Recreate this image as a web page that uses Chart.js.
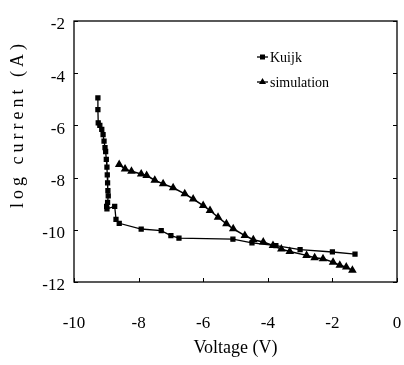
<!DOCTYPE html>
<html>
<head>
<meta charset="utf-8">
<script src="https://cdn.jsdelivr.net/npm/chart.js@4.4.1/dist/chart.umd.min.js"></script>
<style>
  html, body { margin: 0; padding: 0; background: #fff; overflow: hidden; }
  canvas { display: block; }
</style>
</head>
<body>
<canvas id="chart" width="404" height="365"></canvas>
<script>
// data
const kuijkV = [-9.26, -9.26, -9.25, -9.2, -9.14, -9.1, -9.07, -9.04, -9.02, -9.0, -8.98, -8.97, -8.96, -8.95, -8.94, -8.96, -8.99, -8.98, -8.74, -8.7, -8.6, -7.92, -7.3, -7.0, -6.75, -5.08, -4.49, -3.75, -3.0, -2.0, -1.3];
const kuijkI = [-4.95, -5.4, -5.9, -6.0, -6.15, -6.35, -6.6, -6.85, -7.0, -7.3, -7.6, -7.9, -8.2, -8.5, -8.7, -8.95, -9.1, -9.2, -9.1, -9.6, -9.75, -9.97, -10.03, -10.22, -10.32, -10.36, -10.5, -10.61, -10.76, -10.85, -10.93];

const simV = [-8.6, -8.42, -8.22, -7.92, -7.75, -7.5, -7.24, -6.93, -6.57, -6.31, -6.0, -5.79, -5.54, -5.28, -5.07, -4.71, -4.45, -4.14, -3.84, -3.58, -3.32, -2.8, -2.55, -2.29, -1.98, -1.77, -1.57, -1.38];
const simI = [-7.5, -7.67, -7.76, -7.86, -7.92, -8.1, -8.24, -8.39, -8.62, -8.82, -9.07, -9.26, -9.52, -9.77, -9.96, -10.22, -10.38, -10.47, -10.6, -10.74, -10.83, -10.98, -11.07, -11.11, -11.24, -11.36, -11.43, -11.55];

const xTicks = [-10, -8, -6, -4, -2, 0];
const yTicks = [-12, -10, -8, -6, -4, -2];

const toPoints = (xs, ys) => xs.map((x, i) => ({ x: x, y: ys[i] }));

const serif = 'Liberation Serif';

// frame, inward ticks, y title and legend
const extras = {
    id: 'extras',
    afterDraw(chart) {
        const ctx = chart.ctx;
        const a = chart.chartArea;
        const xs = chart.scales.x;
        const ys = chart.scales.y;
        ctx.save();
        ctx.strokeStyle = '#000';
        ctx.lineWidth = 1.3;
        ctx.strokeRect(a.left, a.top, a.right - a.left, a.bottom - a.top);
        ctx.lineWidth = 1;
        xTicks.forEach(v => {
            const px = Math.round(xs.getPixelForValue(v)) + 0.5;
            ctx.beginPath();
            ctx.moveTo(px, a.bottom);
            ctx.lineTo(px, a.bottom - 4);
            ctx.stroke();
        });
        yTicks.forEach(v => {
            const py = Math.round(ys.getPixelForValue(v)) + 0.5;
            ctx.beginPath();
            ctx.moveTo(a.left, py);
            ctx.lineTo(a.left + 4, py);
            ctx.moveTo(a.right, py);
            ctx.lineTo(a.right - 4, py);
            ctx.stroke();
        });

        // y axis title, spaced like the original
        ctx.fillStyle = '#000';
        ctx.font = '18px "' + serif + '"';
        ctx.letterSpacing = '4px';
        ctx.textAlign = 'center';
        ctx.textBaseline = 'middle';
        ctx.translate(18, 124);
        ctx.rotate(-Math.PI / 2);
        ctx.fillText('log current (A)', 0, 0);
        ctx.restore();

        // legend
        ctx.save();
        ctx.font = '14px "' + serif + '"';
        ctx.textAlign = 'left';
        ctx.textBaseline = 'middle';
        ctx.fillStyle = '#000';
        ctx.strokeStyle = '#000';
        chart.data.datasets.forEach((ds, i) => {
            const y = 57 + i * 25;
            ctx.lineWidth = 1.3;
            ctx.beginPath();
            ctx.moveTo(257, y);
            ctx.lineTo(268, y);
            ctx.stroke();
            if (ds.pointStyle === 'triangle') {
                ctx.beginPath();
                ctx.moveTo(262.5, y - 4);
                ctx.lineTo(266, y + 2);
                ctx.lineTo(259, y + 2);
                ctx.closePath();
                ctx.fill();
            } else {
                ctx.fillRect(260, y - 2.5, 5, 5);
            }
            ctx.fillText(ds.label, 270, y + 1);
        });
        ctx.restore();
    }
};

const chart = new Chart(document.getElementById('chart').getContext('2d'), {
    type: 'scatter',
    data: {
        datasets: [{
            label: 'Kuijk',
            data: toPoints(kuijkV, kuijkI),
            showLine: true,
            borderColor: '#000',
            backgroundColor: '#000',
            borderWidth: 1.3,
            pointStyle: 'rect',
            pointRadius: 2.8,
            pointHoverRadius: 2.8
        }, {
            label: 'simulation',
            data: toPoints(simV, simI),
            showLine: true,
            borderColor: '#000',
            backgroundColor: '#000',
            borderWidth: 1.5,
            pointStyle: 'triangle',
            pointRadius: 3.5,
            pointHoverRadius: 3.5
        }]
    },
    options: {
        responsive: false,
        animation: false,
        devicePixelRatio: 1,
        layout: { padding: { left: 0, right: 7, top: 21, bottom: 0 } },
        plugins: {
            legend: { display: false },
            tooltip: { enabled: false }
        },
        scales: {
            x: {
                type: 'linear',
                min: -10,
                max: 0,
                afterBuildTicks: s => { s.ticks = xTicks.map(v => ({ value: v })); },
                afterFit: s => {
                    s.height = 83;
                    s.paddingLeft = 0;
                    s.paddingRight = 0;
                },
                grid: { display: false, drawTicks: false },
                border: { display: false },
                ticks: {
                    padding: 31,
                    color: '#000',
                    font: { family: serif, size: 17 }
                },
                title: {
                    display: true,
                    text: 'Voltage (V)',
                    color: '#000',
                    font: { family: serif, size: 18 },
                    padding: { top: 0, bottom: 6 }
                }
            },
            y: {
                type: 'linear',
                min: -12,
                max: -2,
                afterBuildTicks: s => { s.ticks = yTicks.map(v => ({ value: v })); },
                afterFit: s => {
                    s.width = 74;
                    s.paddingTop = 0;
                    s.paddingBottom = 0;
                },
                grid: { display: false, drawTicks: false },
                border: { display: false },
                ticks: {
                    padding: 9,
                    labelOffset: 4,
                    color: '#000',
                    font: { family: serif, size: 17 }
                }
            }
        }
    },
    plugins: [extras]
});
</script>
</body>
</html>
